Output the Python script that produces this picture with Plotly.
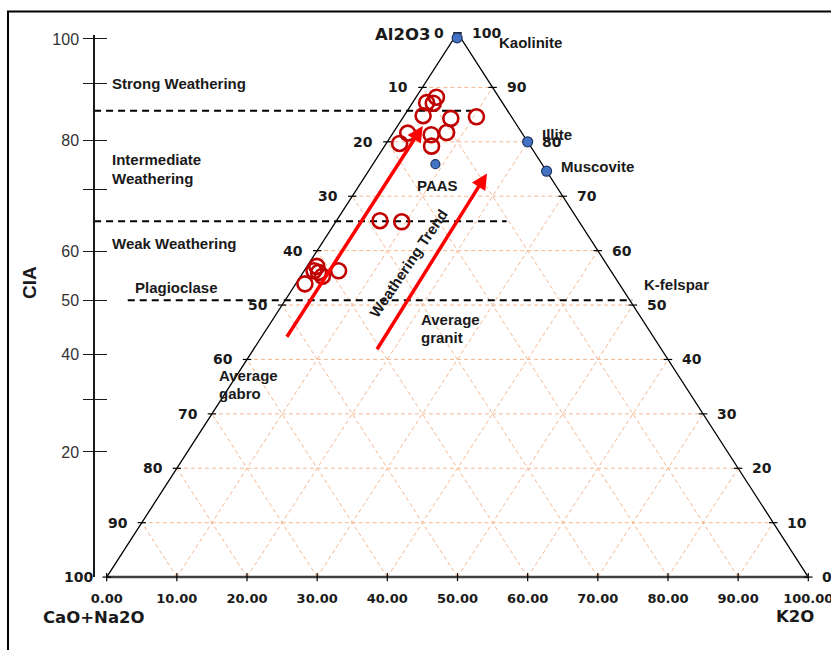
import plotly.graph_objects as go

# ---------------- data ----------------
GRID_VALUES = [10, 20, 30, 40, 50, 60, 70, 80, 90]
EDGE_TICKS = [0, 10, 20, 30, 40, 50, 60, 70, 80, 90, 100]
BOTTOM_TICK_LABELS = ["0.00", "10.00", "20.00", "30.00", "40.00", "50.00",
                      "60.00", "70.00", "80.00", "90.00", "100.00"]
LEFT_EDGE_LABELS = ["100", "90", "80", "70", "60", "50", "40", "30", "20", "10", "0"]
RIGHT_EDGE_LABELS = ["0", "10", "20", "30", "40", "50", "60", "70", "80", "90", "100"]

# samples (A = Al2O3, CN = CaO+Na2O, K = K2O), molar %
SAMPLE_A = [88.2, 87.2, 87.1, 84.8, 84.3, 84.6, 81.6, 79.7, 81.3, 81.7, 79.2,
            65.5, 65.3, 57.1, 56.3, 56.0, 55.3, 56.3, 53.9]
SAMPLE_CN = [8.9, 10.8, 9.9, 12.5, 8.8, 5.0, 16.3, 18.4, 13.1, 10.7, 14.1,
             28.3, 25.3, 41.5, 42.3, 41.8, 41.6, 38.8, 44.8]
SAMPLE_K = [2.9, 2.0, 3.0, 2.7, 6.9, 10.4, 2.1, 1.9, 5.6, 7.6, 6.7,
            6.2, 9.4, 1.4, 1.4, 2.2, 3.1, 4.9, 1.3]

# reference minerals / compositions
REF_NAMES = ["Kaolinite", "Illite", "Muscovite", "PAAS"]
REF_A = [99.1, 80.0, 74.6, 75.9]
REF_CN = [0.5, 0.0, 0.0, 15.2]
REF_K = [0.4, 20.0, 25.4, 8.9]

# CIA scale (left axis), positions on the Al2O3 scale
CIA_TICK_POS = [98.9, 90.8, 80.3, 71.3, 59.9, 50.9, 41.0, 32.7, 23.0]
CIA_TICK_TEXT = ["100", "", "80", "", "60", "50", "40", "", "20"]
CIA_BOUNDARIES = [85.7, 65.4, 50.9]

# weathering trend arrows (tail -> head), in ternary A / K
ARROW_TAIL_A = [43.9, 41.6]
ARROW_TAIL_K = [3.6, 17.6]
ARROW_HEAD_A = [82.9, 74.2]
ARROW_HEAD_K = [3.6, 17.1]


def tern(a, cn, k):
    s = a + cn + k
    a = 100.0 * a / s
    k = 100.0 * k / s
    return k + a / 2.0, a


fig = go.Figure()

# ---- ternary grid ----
gx, gy = [], []
for v in GRID_VALUES:
    gx += [v / 2, 100 - v / 2, None]; gy += [v, v, None]          # constant A
    gx += [v, v + (100 - v) / 2, None]; gy += [0, 100 - v, None]   # constant K
    gx += [100 - v, (100 - v) / 2, None]; gy += [0, 100 - v, None] # constant CN
fig.add_trace(go.Scatter(x=gx, y=gy, mode="lines", hoverinfo="skip",
                         line=dict(color="#F5B891", width=1, dash="4px,3px")))

# ---- CIA boundaries (dashed) ----
bx_start = [-1.8, -1.8, 3.0]
bx_end = [52.0, 57.0, 74.9]
dx, dy = [], []
for lvl, s, e in zip(CIA_BOUNDARIES, bx_start, bx_end):
    dx += [s, e, None]; dy += [lvl, lvl, None]
fig.add_trace(go.Scatter(x=dx, y=dy, mode="lines", hoverinfo="skip",
                         line=dict(color="black", width=2, dash="7px,5px")))

# ---- triangle edges ----
fig.add_trace(go.Scatter(x=[0, 50, 100], y=[0, 100, 0], mode="lines", hoverinfo="skip",
                         line=dict(color="black", width=1.3)))
fig.add_trace(go.Scatter(x=[0, 100], y=[0, 0], mode="lines", hoverinfo="skip",
                         line=dict(color="#404040", width=2.5)))

# edge ticks
tx, ty = [], []
for a in EDGE_TICKS:
    xl = a / 2
    xr = 100 - a / 2
    tx += [xl - 0.6, xl + 0.6, None, xr - 0.6, xr + 0.6, None]
    ty += [a, a, None, a, a, None]
for v in EDGE_TICKS:
    tx += [v, v, None]; ty += [-0.75, 0.75, None]
fig.add_trace(go.Scatter(x=tx, y=ty, mode="lines", hoverinfo="skip",
                         line=dict(color="black", width=1.2)))

# ---- samples ----
sx, sy = zip(*[tern(a, c, k) for a, c, k in zip(SAMPLE_A, SAMPLE_CN, SAMPLE_K)])
fig.add_trace(go.Scatter(x=sx, y=sy, mode="markers", cliponaxis=False,
                         marker=dict(symbol="circle-open", size=15, opacity=1,
                                     line=dict(color="#C00000", width=2.6),
                                     color="#C00000")))

# ---- reference points ----
rx, ry = zip(*[tern(a, c, k) for a, c, k in zip(REF_A, REF_CN, REF_K)])
fig.add_trace(go.Scatter(x=rx, y=ry, mode="markers", cliponaxis=False,
                         marker=dict(size=[10, 10, 10, 9], color="#4472C4", opacity=1,
                                     line=dict(color="#203864", width=1.2))))

# dummy traces for the CIA axis
fig.add_trace(go.Scatter(x=[0], y=[0], xaxis="x", yaxis="y2", mode="markers",
                         marker=dict(opacity=0), hoverinfo="skip"))
fig.add_trace(go.Scatter(x=[0], y=[0], xaxis="x", yaxis="y3", mode="markers",
                         marker=dict(opacity=0), hoverinfo="skip"))

# ---- annotations ----
ann = []
edge_font = dict(family="DejaVu Sans", size=14, color="#1a1a1a")
for a, lt, rt in zip(EDGE_TICKS, LEFT_EDGE_LABELS, RIGHT_EDGE_LABELS):
    ann.append(dict(x=a / 2, y=a, text="<b>%s</b>" % lt, showarrow=False,
                    xanchor="right", yanchor="middle", xshift=-12, font=edge_font))
    ann.append(dict(x=100 - a / 2, y=a, text="<b>%s</b>" % rt, showarrow=False,
                    xanchor="left", yanchor="middle", xshift=12, font=edge_font))

lab_font = dict(family="Liberation Sans, Arial", size=15, color="#1a1a1a")
labels = [
    ("Strong Weathering", 0.47, 90.8),
    ("Intermediate", 0.47, 76.8),
    ("Weathering", 0.47, 73.3),
    ("Weak Weathering", 0.47, 61.4),
    ("Plagioclase", 3.75, 53.3),
    ("Average", 15.72, 37.0),
    ("gabro", 15.72, 33.8),
    ("PAAS", 43.94, 71.9),
    ("Average", 44.51, 47.4),
    ("granit", 44.51, 44.1),
    ("K-felspar", 76.29, 53.7),
    ("Illite", 61.76, 81.3),
    ("Muscovite", 64.47, 75.4),
    ("Kaolinite", 55.63, 98.2),
]
for t, x, y in labels:
    ann.append(dict(x=x, y=y, text="<b>%s</b>" % t, showarrow=False,
                    xanchor="left", yanchor="middle", font=lab_font))

ann.append(dict(x=42.94, y=57.7, text="<b>Weathering Trend</b>", showarrow=False,
                textangle=-56, font=lab_font))

axis_font = dict(family="DejaVu Sans", size=16.5, color="#1a1a1a")
ann.append(dict(x=46.4, y=99.8, text="<b>Al2O3</b>", showarrow=False,
                xanchor="right", yanchor="middle", font=axis_font))
ann.append(dict(x=-1.81, y=-7.35, text="<b>CaO+Na2O</b>", showarrow=False,
                xanchor="center", yanchor="middle", font=axis_font))
ann.append(dict(x=98.1, y=-7.2, text="<b>K2O</b>", showarrow=False,
                xanchor="center", yanchor="middle", font=axis_font))
ann.append(dict(x=29 / 831, y=(650 - 283) / 650, xref="paper", yref="paper",
                xanchor="center", yanchor="middle",
                text="<b>CIA</b>", showarrow=False, textangle=-90,
                font=dict(family="Liberation Sans, Arial", size=19, color="#1a1a1a")))

for ta, tk, ha, hk in zip(ARROW_TAIL_A, ARROW_TAIL_K, ARROW_HEAD_A, ARROW_HEAD_K):
    x0, y0 = tk + ta / 2, ta
    x1, y1 = hk + ha / 2, ha
    ann.append(dict(x=x1, y=y1, ax=x0, ay=y0, xref="x", yref="y", axref="x", ayref="y",
                    text="", showarrow=True, arrowhead=2, arrowsize=0.9,
                    arrowwidth=3.5, arrowcolor="#FF0000", standoff=0))

# ---- layout ----
X0_PX, XS = 106.7, 7.016
A0_PX, YS = 577.1, 5.441
W, H = 831, 650

cia_axis = dict(domain=[(H - A0_PX) / H, (H - 35) / H], range=[0, 100 - 2 / YS],
                anchor="free", position=94 / W, side="left",
                showgrid=False, zeroline=False,
                tickvals=CIA_TICK_POS, ticktext=CIA_TICK_TEXT)

fig.update_layout(
    width=W, height=H, autosize=False,
    margin=dict(l=0, r=0, t=0, b=0),
    paper_bgcolor="white", plot_bgcolor="rgba(0,0,0,0)",
    showlegend=False,
    xaxis=dict(domain=[0, 1], range=[-X0_PX / XS, (W - X0_PX) / XS],
               anchor="free", position=(H - A0_PX) / H,
               showgrid=False, zeroline=False, showline=False, ticks="",
               tickvals=EDGE_TICKS, ticktext=BOTTOM_TICK_LABELS,
               tickfont=dict(family="DejaVu Sans", size=13, color="#1a1a1a", weight="bold"),
               ticklabelstandoff=12, ticklabeloverflow="allow", automargin=False),
    yaxis=dict(domain=[0, 1], range=[-(H - A0_PX) / YS, A0_PX / YS], visible=False),
    yaxis2=dict(**cia_axis, showline=True, linecolor="#1a1a1a", linewidth=1.5,
                ticks="outside", ticklen=10, tickwidth=1.2, tickcolor="#1a1a1a",
                tickfont=dict(family="Liberation Sans, Arial", size=16, color="#333333"),
                ticklabelstandoff=1, automargin=False),
    yaxis3=dict(**cia_axis, overlaying="y2", showline=False,
                ticks="inside", ticklen=12, tickwidth=1.2, tickcolor="#1a1a1a",
                showticklabels=False),
    annotations=ann,
    shapes=[dict(type="rect", xref="paper", yref="paper",
                 x0=8 / W, x1=1.02, y0=-0.02, y1=(H - 11.5) / H,
                 line=dict(color="black", width=2))],
)

fig.write_html("out.html", config={"displayModeBar": False},
               post_script="document.body.style.margin='0';document.body.style.overflow='hidden';")
